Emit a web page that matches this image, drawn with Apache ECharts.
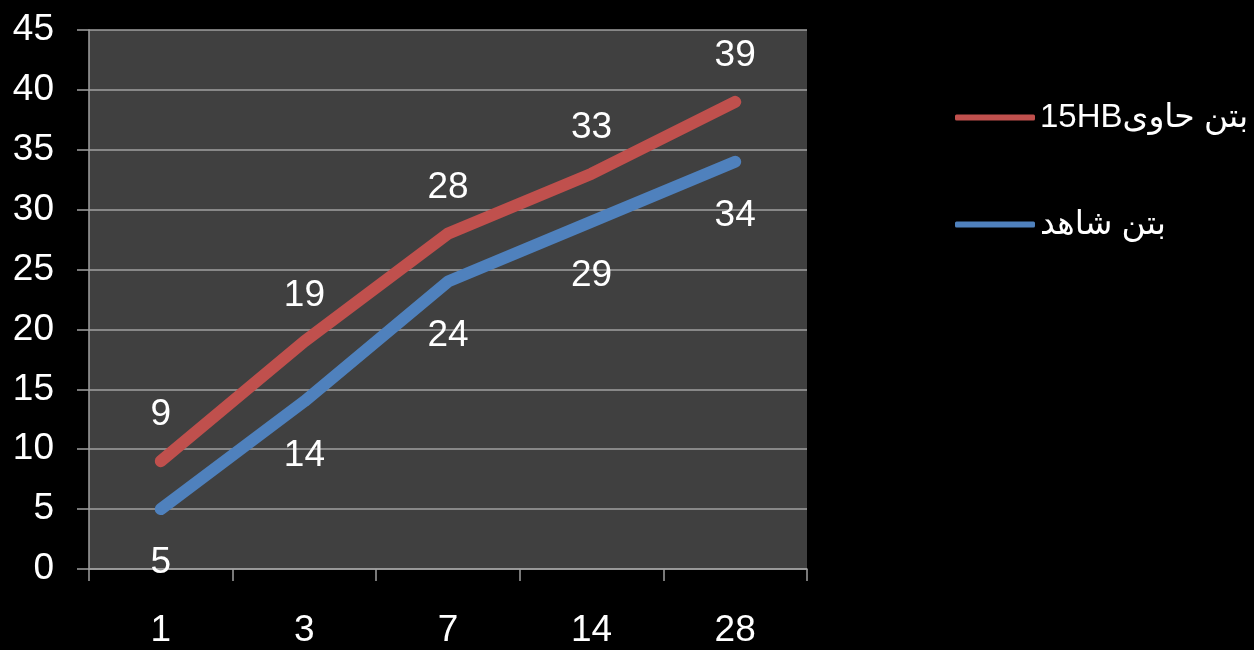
<!DOCTYPE html>
<html>
<head>
<meta charset="utf-8">
<script src="https://cdn.jsdelivr.net/npm/echarts@6/dist/echarts.min.js"></script>
<style>
html,body{margin:0;padding:0;background:#000;}
#chart{width:1254px;height:650px;}
</style>
</head>
<body>
<div id="chart"></div>
<script>
var categories = ['1', '3', '7', '14', '28'];
var seriesNames = ['\u2067بتن حاوی15HB\u2069', '\u2067بتن شاهد\u2069'];
var redValues = [9, 19, 28, 33, 39];
var blueValues = [5, 14, 24, 29, 34];

var FONT = '"Liberation Sans", Arial, "DejaVu Sans", sans-serif';
var chart = echarts.init(document.getElementById('chart'));
chart.setOption({
  backgroundColor: '#000',
  animation: false,
  textStyle: { fontFamily: FONT },
  grid: { left: 89, right: 447, top: 30, bottom: 81, show: true, backgroundColor: '#404040', borderWidth: 0 },
  legend: {
    orient: 'vertical',
    left: 955,
    top: 101,
    padding: 0,
    itemWidth: 80,
    itemHeight: 6,
    itemGap: 74,
    icon: 'roundRect',
    textStyle: { color: '#fff', fontSize: 33, fontFamily: FONT },
    data: seriesNames
  },
  xAxis: {
    type: 'category',
    data: categories,
    boundaryGap: true,
    axisLine: { show: true, lineStyle: { color: '#a0a0a0', width: 1.5 } },
    axisTick: { show: true, length: 12, inside: false, lineStyle: { color: '#a0a0a0', width: 1.5 } },
    axisLabel: { color: '#fff', fontSize: 37, margin: 43, fontFamily: FONT },
    splitLine: { show: false }
  },
  yAxis: {
    type: 'value',
    min: 0,
    max: 45,
    interval: 5,
    axisLine: { show: true, lineStyle: { color: '#a0a0a0', width: 1.5 } },
    axisTick: { show: true, length: 12, lineStyle: { color: '#a0a0a0', width: 1.5 } },
    axisLabel: { color: '#fff', fontSize: 37, margin: 35, fontFamily: FONT },
    splitLine: { show: true, lineStyle: { color: '#a0a0a0', width: 1.5 } }
  },
  series: [
    {
      name: seriesNames[0],
      type: 'line',
      data: redValues,
      symbol: 'circle',
      symbolSize: 1,
      showSymbol: true,
      color: '#c0504d',
      itemStyle: { color: '#c0504d' },
      lineStyle: { width: 12, color: '#c0504d', cap: 'round', join: 'round' },
      label: { show: true, position: 'top', distance: 27, color: '#fff', fontSize: 37, fontFamily: FONT },
      z: 3
    },
    {
      name: seriesNames[1],
      type: 'line',
      data: blueValues,
      symbol: 'circle',
      symbolSize: 1,
      showSymbol: true,
      color: '#4f81bd',
      itemStyle: { color: '#4f81bd' },
      lineStyle: { width: 12, color: '#4f81bd', cap: 'round', join: 'round' },
      label: { show: true, position: 'bottom', distance: 35, color: '#fff', fontSize: 37, fontFamily: FONT },
      z: 2
    }
  ]
});
</script>
</body>
</html>
